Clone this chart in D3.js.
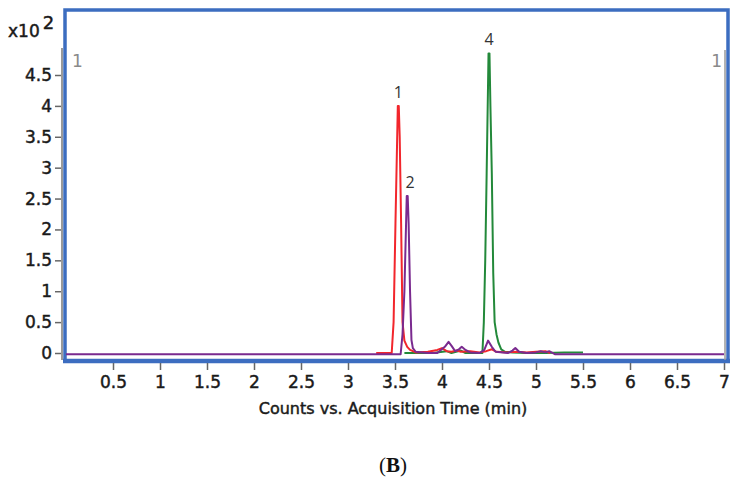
<!DOCTYPE html>
<html>
<head>
<meta charset="utf-8">
<script src="https://cdn.jsdelivr.net/npm/d3@7"></script>
<style>
  body { margin: 0; background: #fff; }
  svg { display: block; }
</style>
</head>
<body>
<svg id="chart" width="738" height="480"></svg>
<script>
// tick values (x in min, y in x10^2 counts)
const xTicks = [0.5, 1, 1.5, 2, 2.5, 3, 3.5, 4, 4.5, 5, 5.5, 6, 6.5, 7];
const yTicks = [0, 0.5, 1, 1.5, 2, 2.5, 3, 3.5, 4, 4.5];

// traces: [time, counts x10^2]
const greenTrace = [
    [3.6, 0], [3.9, 0], [4.05, 0.03], [4.1, 0], [4.2, 0.04], [4.25, 0], [4.43, 0],
    [4.445, 0.5], [4.46, 1.5], [4.475, 2.9], [4.495, 4.85], [4.505, 4.85], [4.515, 4.0],
    [4.53, 2.9], [4.545, 1.3], [4.56, 0.5], [4.58, 0.3], [4.6, 0.17], [4.63, 0.06],
    [4.67, 0.02], [4.75, 0.01], [4.9, 0], [5.1, 0], [5.3, 0.01], [5.5, 0.01]
];
const redTrace = [
    [3.3, 0], [3.465, 0], [3.485, 0.5], [3.505, 2.1], [3.53, 4.0], [3.54, 4.0], [3.55, 3.5],
    [3.565, 2.1], [3.58, 0.5], [3.6, 0.2], [3.63, 0.1], [3.66, 0.05], [3.72, 0.01], [3.85, 0.02],
    [3.95, 0.05], [4.0, 0.08], [4.05, 0.03], [4.1, 0.02], [4.16, 0.04], [4.2, 0.02],
    [4.3, 0.03], [4.4, 0.01], [4.47, 0.03], [4.53, 0.06], [4.58, 0.02], [4.7, 0.01],
    [4.8, 0.02], [4.9, 0.01], [5.0, 0.02], [5.1, 0.03], [5.15, 0]
];
const purpleTrace = [
    [0, -0.02], [3.56, -0.02], [3.58, 0.3], [3.6, 1.0], [3.625, 2.54], [3.635, 2.54], [3.645, 2.1],
    [3.66, 1.0], [3.675, 0.21], [3.69, 0.08], [3.72, 0.02], [3.85, 0], [3.95, 0],
    [4.03, 0.1], [4.07, 0.18], [4.1, 0.12], [4.14, 0.03], [4.18, 0.06], [4.21, 0.1],
    [4.25, 0.05], [4.3, 0.01], [4.4, 0], [4.45, 0.05], [4.49, 0.2], [4.53, 0.1],
    [4.57, 0.02], [4.7, 0], [4.75, 0.04], [4.78, 0.08], [4.82, 0.02], [4.9, 0],
    [5.0, 0.01], [5.05, 0.03], [5.1, 0.01], [5.14, 0.03], [5.2, -0.02], [7, -0.02]
];

const peakLabels = [
    { text: "1", t: 3.535, v: 4.0 },
    { text: "2", t: 3.66, v: 2.54 },
    { text: "4", t: 4.5, v: 4.85 }
];

const svg = d3.select("#chart");

const x = d3.scaleLinear().domain([0, 7]).range([66, 724]);
const y = d3.scaleLinear().domain([0, 4.5]).range([353, 75]);

const axisFont = "'DejaVu Sans', sans-serif";
const ink = "#1a1a1a";

// heavier look for the instrument-style labels
function heavy(sel, color) {
    sel.attr("stroke", color).attr("stroke-width", 0.45).attr("paint-order", "stroke");
}

// plot frame
svg.append("rect")
    .attr("x", 65).attr("y", 10)
    .attr("width", 663).attr("height", 351)
    .attr("fill", "none")
    .attr("stroke", "#3c6dc0")
    .attr("stroke-width", 3.5);

svg.append("line")
    .attr("x1", 63).attr("x2", 730)
    .attr("y1", 361).attr("y2", 361)
    .attr("stroke", "#3c6dc0")
    .attr("stroke-width", 4.5);

// gray inner markers
svg.append("line")
    .attr("x1", 62).attr("x2", 62).attr("y1", 48).attr("y2", 360)
    .attr("stroke", "#9a9a9a").attr("stroke-width", 2);
svg.append("line")
    .attr("x1", 725).attr("x2", 725).attr("y1", 50).attr("y2", 360)
    .attr("stroke", "#9a9a9a").attr("stroke-width", 1.5);

svg.append("text").attr("x", 72).attr("y", 67)
    .attr("font-family", axisFont).attr("font-size", 17).attr("fill", "#8a8a8a")
    .text("1");
svg.append("text").attr("x", 722).attr("y", 67)
    .attr("text-anchor", "end")
    .attr("font-family", axisFont).attr("font-size", 17).attr("fill", "#8a8a8a")
    .text("1");

// axes
const yAxis = svg.append("g")
    .attr("transform", "translate(61,0)")
    .call(d3.axisLeft(y).tickValues(yTicks).tickSize(6).tickPadding(3).tickFormat(d3.format("")));
const xAxis = svg.append("g")
    .attr("transform", "translate(0,363)")
    .call(d3.axisBottom(x).tickValues(xTicks).tickSize(7).tickPadding(6).tickFormat(d3.format("")));

[yAxis, xAxis].forEach(g => {
    g.select(".domain").remove();
    g.selectAll(".tick line").attr("stroke", "#666").attr("stroke-width", 1.5);
    g.selectAll(".tick text")
        .attr("font-family", axisFont)
        .attr("font-size", 17)
        .attr("fill", ink)
        .call(heavy, ink);
});

// traces
const line = d3.line().x(d => x(d[0])).y(d => y(d[1]));

[[greenTrace, "#23893a"], [redTrace, "#f2262c"], [purpleTrace, "#7a2a8f"]].forEach(([data, color]) => {
    svg.append("path")
        .datum(data)
        .attr("fill", "none")
        .attr("stroke", color)
        .attr("stroke-width", 2)
        .attr("stroke-linejoin", "round")
        .attr("d", line);
});

svg.selectAll(".peak-label")
    .data(peakLabels)
    .join("text")
    .attr("class", "peak-label")
    .attr("x", d => x(d.t))
    .attr("y", d => y(d.v) - 8)
    .attr("text-anchor", "middle")
    .attr("font-family", "'Open Sans', sans-serif")
    .attr("font-size", 16)
    .attr("fill", "#333")
    .text(d => d.text);

// scale factor label
const mult = svg.append("text")
    .attr("x", 8).attr("y", 37)
    .attr("font-family", axisFont).attr("font-size", 17).attr("fill", ink)
    .call(heavy, ink);
mult.append("tspan").text("x10");
mult.append("tspan").attr("dx", 3).attr("dy", -8).attr("font-size", 18).text("2");

// x title
svg.append("text")
    .attr("x", 393).attr("y", 414)
    .attr("text-anchor", "middle")
    .attr("font-family", axisFont).attr("font-size", 16).attr("fill", ink)
    .call(heavy, ink)
    .text("Counts vs. Acquisition Time (min)");

// panel letter
const panel = svg.append("text")
    .attr("x", 393).attr("y", 472)
    .attr("text-anchor", "middle")
    .attr("font-family", "'Liberation Serif', serif").attr("font-size", 21).attr("fill", "#111");
panel.append("tspan").text("(");
panel.append("tspan").attr("font-weight", "bold").text("B");
panel.append("tspan").text(")");
</script>
</body>
</html>
